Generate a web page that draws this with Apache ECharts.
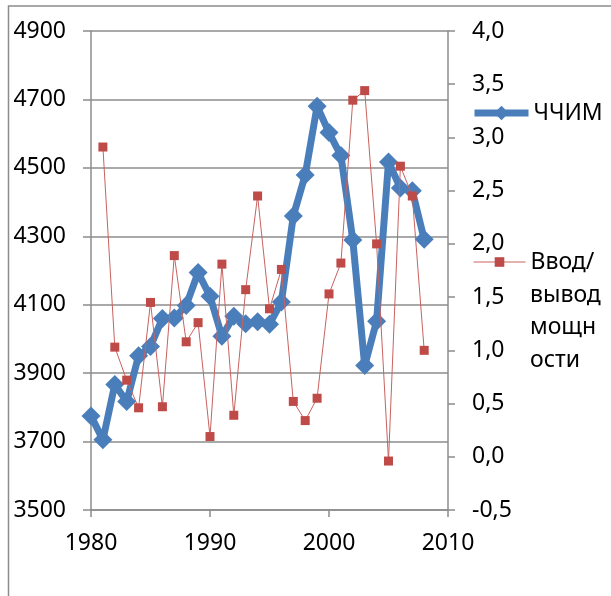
<!DOCTYPE html>
<html>
<head>
<meta charset="utf-8">
<script src="https://cdn.jsdelivr.net/npm/echarts@6/dist/echarts.min.js"></script>
<style>
html,body{margin:0;padding:0;background:#fff;}
#chart{width:611px;height:596px;}
</style>
</head>
<body>
<div id="chart"></div>
<script>
// ---- data ----
const years = [1980,1981,1982,1983,1984,1985,1986,1987,1988,1989,1990,1991,1992,1993,1994,1995,1996,1997,1998,1999,2000,2001,2002,2003,2004,2005,2006,2007,2008];
const chchim = [3775,3705,3867,3817,3951,3978,4060,4061,4098,4194,4125,4008,4066,4044,4050,4043,4108,4359,4479,4680,4603,4536,4289,3922,4052,4517,4441,4433,4291];
const vvodYears = [1981,1982,1983,1984,1985,1986,1987,1988,1989,1990,1991,1992,1993,1994,1995,1996,1997,1998,1999,2000,2001,2002,2003,2004,2005,2006,2007,2008];
const vvod = [2.91,1.03,0.72,0.46,1.45,0.47,1.89,1.08,1.26,0.19,1.81,0.39,1.57,2.45,1.39,1.76,0.52,0.34,0.55,1.53,1.82,3.35,3.44,2.00,-0.04,2.73,2.45,1.00];
const seriesNames = ['ЧЧИМ', 'Ввод/вывод мощности'];
const legendLine1 = 'Ввод/';
const legendRest = 'вывод\nмощн\nости';

const FONT = '"Noto Sans", "Open Sans", sans-serif';
const GRAY = '#8c8c8c';
const BLUE = '#4a7ebb';
const RED = '#be4b48';

const chart = echarts.init(document.getElementById('chart'), null, {renderer:'canvas'});
const option = {
  animation: false,
  backgroundColor: '#fff',
  textStyle: {fontFamily: FONT},
  grid: {left: 91, right: 163, top: 31, bottom: 86, containLabel: false},
  xAxis: {
    type: 'value', min: 1980, max: 2010, interval: 10,
    axisLine: {show: true, onZero: false, lineStyle: {color: GRAY, width: 1.5}},
    axisTick: {show: true, inside: false, length: 7, lineStyle: {color: GRAY, width: 1.5}},
    splitLine: {show: false},
    axisLabel: {color: '#000', fontSize: 23, fontFamily: FONT, margin: 22, lineHeight: 23,
      formatter: v => String(v)}
  },
  yAxis: [{
    type: 'value', min: 3500, max: 4900, interval: 200, position: 'left',
    axisLine: {show: true, lineStyle: {color: GRAY, width: 1.5}},
    axisTick: {show: true, inside: false, length: 8, lineStyle: {color: GRAY, width: 1.5}},
    splitLine: {show: true, lineStyle: {color: GRAY, width: 1.5}},
    axisLabel: {color: '#000', fontSize: 23, fontFamily: FONT, margin: 25,
      formatter: v => String(v)}
  },{
    type: 'value', min: -0.5, max: 4.0, interval: 0.5, position: 'right',
    axisLine: {show: true, lineStyle: {color: GRAY, width: 1.5}},
    axisTick: {show: true, inside: false, length: 7, lineStyle: {color: GRAY, width: 1.5}},
    splitLine: {show: false},
    axisLabel: {color: '#000', fontSize: 23, fontFamily: FONT, margin: 24,
      formatter: v => v.toFixed(1).replace('.', ',')}
  }],
  legend: [{
    data: [seriesNames[0]],
    left: 471, top: 101.5, padding: 0,
    itemWidth: 54, itemHeight: 18,
    lineStyle: {width: 7, color: BLUE},
    textStyle: {color: '#000', fontSize: 23, fontFamily: FONT, lineHeight: 23},
    selectedMode: false
  },{
    data: [seriesNames[1]],
    left: 473, top: 250.5, padding: 0,
    itemWidth: 52, itemHeight: 12,
    lineStyle: {width: 1, color: '#c9625f'},
    formatter: () => legendLine1,
    textStyle: {color: '#000', fontSize: 23, fontFamily: FONT, lineHeight: 23},
    selectedMode: false
  }],
  graphic: [{
    type: 'rect', silent: true, z: -1,
    shape: {x: 8.5, y: 6, width: 700, height: 700},
    style: {fill: 'none', stroke: GRAY, lineWidth: 1.5}
  },{
    type: 'text', left: 530, top: 279, silent: true,
    style: {text: legendRest, fill: '#000', font: '23px ' + FONT, lineHeight: 32.5}
  }],
  series: [{
    name: seriesNames[0], type: 'line', yAxisIndex: 0,
    data: years.map((y, i) => [y, chchim[i]]),
    symbol: 'diamond', symbolSize: 19,
    lineStyle: {color: BLUE, width: 7},
    itemStyle: {color: BLUE},
    z: 2
  },{
    name: seriesNames[1], type: 'line', yAxisIndex: 1,
    data: vvodYears.map((y, i) => [y, vvod[i]]),
    symbol: 'rect', symbolSize: 9,
    lineStyle: {color: '#c9625f', width: 1},
    itemStyle: {color: RED},
    z: 3
  }]
};
chart.setOption(option);
</script>
</body>
</html>
